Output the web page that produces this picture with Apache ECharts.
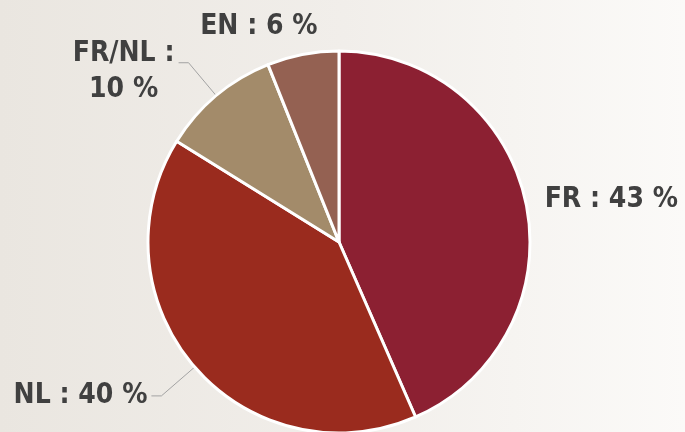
<!DOCTYPE html>
<html><head><meta charset="utf-8">
<script src="https://cdn.jsdelivr.net/npm/echarts@6/dist/echarts.min.js"></script>
<style>html,body{margin:0;padding:0;background:#EFECE6;}#c{width:685px;height:432px;}</style>
</head><body><div id="c"></div>
<script>
const categories = ['FR', 'NL', 'FR/NL', 'EN'];
const values = [43, 40, 10, 6];

const sliceColors = ['#8C2032', '#9A2B1E', '#A38B6A', '#946152'];
const FONT = '"DejaVu Sans Condensed", "Liberation Sans Narrow", "DejaVu Sans", sans-serif';

const itemStyles = [
  { labelLine: { show: false, length: 15, length2: 0 } },
  { labelLine: { length: 44, length2: 10 }, label: { padding: [0, 0, 18, 0] } },
  { labelLine: { length: 43, length2: 10 },
    label: { formatter: '{a|{b} :}\n{a|{c} %}', padding: [18, 0, 0, 0],
             rich: { a: { width: 102, align: 'center', fontSize: 28, fontWeight: 'bold', color: '#404040', fontFamily: FONT, lineHeight: 36 } } } },
  { labelLine: { show: false, length: 28, length2: 0 } }
];
const labelShift = [[0, 0], [0, 0], [0, 0], [24, 0]];

const data = categories.map((name, i) => Object.assign({
  name: name,
  value: values[i],
  itemStyle: { color: sliceColors[i] }
}, itemStyles[i]));

const chart = echarts.init(document.getElementById('c'), null, { renderer: 'canvas' });
chart.setOption({
  backgroundColor: {
    type: 'linear', x: 0, y: 0, x2: 1, y2: 0,
    colorStops: [{ offset: 0, color: '#EAE6E0' }, { offset: 0.5, color: '#F1EEEA' }, { offset: 1, color: '#FBFAF8' }]
  },
  animation: false,
  series: [{
    type: 'pie',
    center: [339, 242],
    radius: 191,
    startAngle: 90,
    clockwise: true,
    avoidLabelOverlap: false,
    itemStyle: { borderColor: '#FFFFFF', borderWidth: 3 },
    label: {
      show: true,
      position: 'outside',
      formatter: '{b} : {c} %',
      fontSize: 28,
      fontWeight: 'bold',
      color: '#404040',
      fontFamily: FONT,
      distanceToLabelLine: 4
    },
    labelLine: { show: true, lineStyle: { color: '#A3A3A3', width: 1 }, smooth: false },
    labelLayout: function (p) {
      const s = labelShift[p.dataIndex];
      return { dx: s[0], dy: s[1] };
    },
    emphasis: { disabled: true },
    data: data
  }]
});
</script>
</body></html>
